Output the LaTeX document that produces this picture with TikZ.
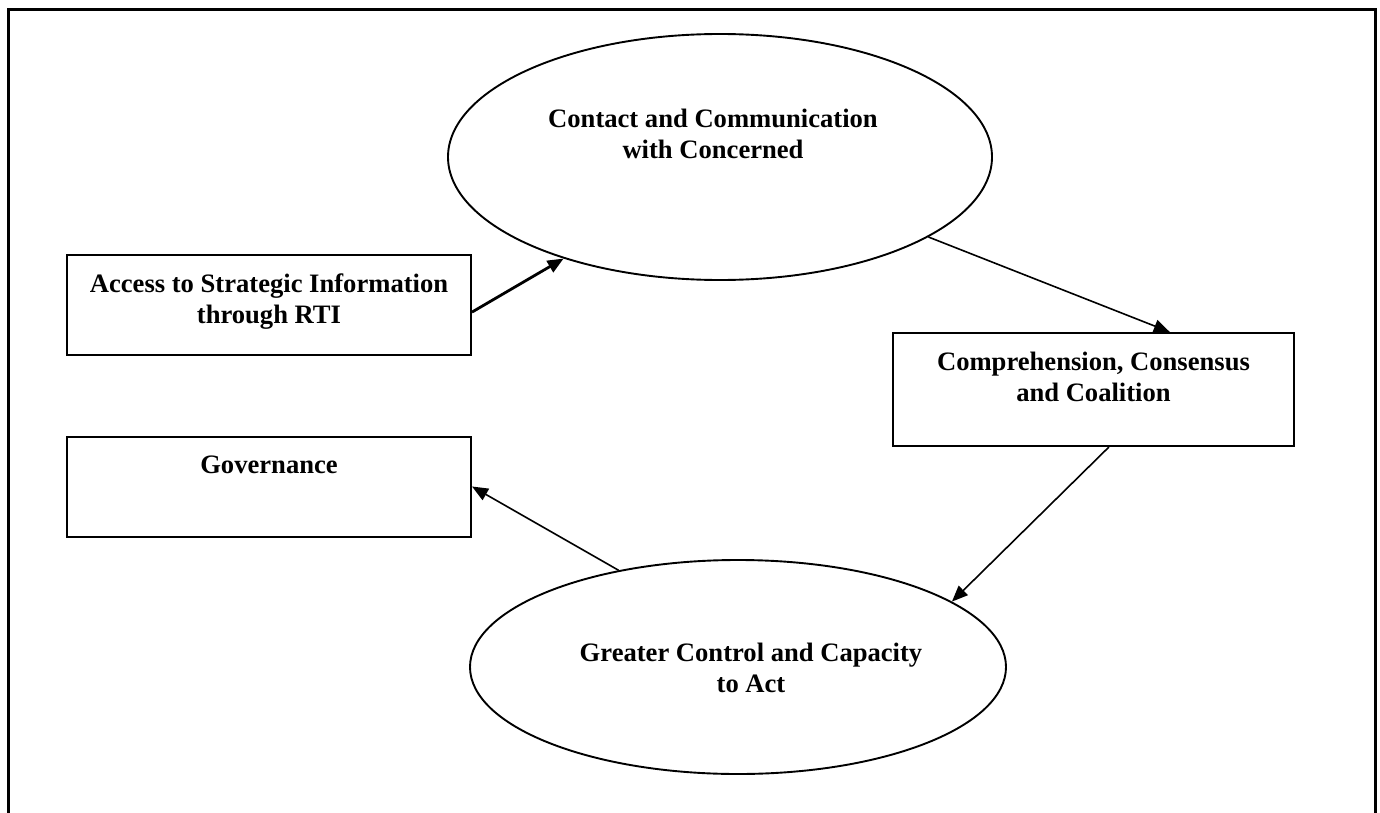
\documentclass[tikz,border=0pt]{standalone}
\usepackage{fontspec}
\setmainfont{Liberation Serif}
\usetikzlibrary{positioning,arrows.meta,shapes.geometric,calc}

\begin{document}
\begin{tikzpicture}[
  x=1pt, y=-1pt,
  blk/.style={draw, line width=2pt, rectangle, inner sep=0pt},
  ell/.style={draw, line width=1.9pt, ellipse, inner sep=0pt},
  txt/.style={align=center, inner sep=0pt,
              font=\fontsize{26.6}{31}\selectfont\bfseries},
  ar/.style={-{Triangle[length=16pt,width=13pt]}, line width=1.6pt},
  arb/.style={ar, line width=2.8pt}
]
\useasboundingbox (0,0) rectangle (1380,813);
% outer frame, open at the bottom
\draw[line width=3pt] (8,813) -- (8,10) -- (1375,10) -- (1375,813);

\node[ell, minimum width=544pt, minimum height=246pt] (cont) at (720,157) {};
\node[ell, minimum width=536pt, minimum height=214pt] (grt) at (738,667) {};
\node[blk, minimum width=404pt, minimum height=100pt] (acc) at (269,305) {};
\node[blk, minimum width=401pt, minimum height=113pt] (comp) at (1093.5,389.5) {};
\node[blk, minimum width=404pt, minimum height=100pt] (gov) at (269,486.5) {};

\node[txt] (contt) at (713,134) {Contact and Communication\\with Concerned};
\node[txt] (acct) at (269,301.5) {Access to Strategic Information\\through RTI};
\node[txt] (compt) at (1093.5,377) {Comprehension, Consensus\\and Coalition};
\node[txt, anchor=base] (govt) at (269,473) {Governance};
\node[txt] (grtt) at (751,668) {Greater Control and Capacity\\to Act};

\draw[arb] (acc.-2) -- (cont.213.6);
\draw[ar] (cont.-21.7) -- (comp.37.2);
\draw[ar] (comp.-75.6) -- (grt.17);
\draw[ar] (grt.141) -- (gov.east);
\end{tikzpicture}
\end{document}
